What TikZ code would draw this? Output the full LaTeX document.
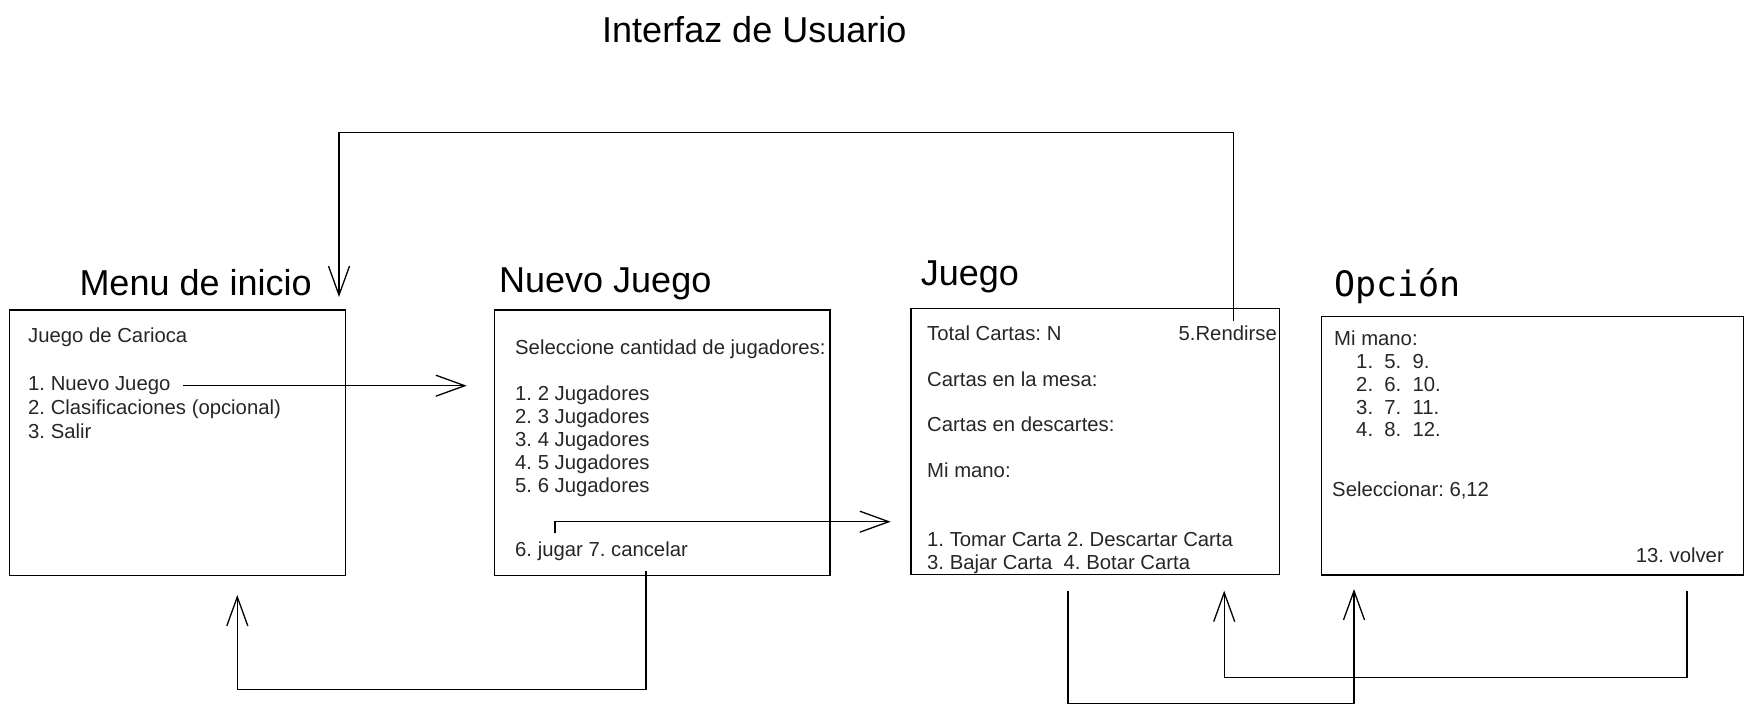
\documentclass[tikz,border=0pt]{standalone}
\usepackage{fontspec}
\setmainfont{Liberation Sans}
\newfontfamily\monofnt{DejaVu Sans Mono}
\usetikzlibrary{arrows.meta}
\frenchspacing
\begin{document}
\begin{tikzpicture}[x=1pt,y=-1pt,
  screen/.style={draw=black, line width=1.4pt, inner sep=0pt, outer sep=0pt, anchor=north west},
  heading/.style={inner sep=0pt, anchor=base west, font=\fontsize{36}{40}\selectfont, text=black},
  txt/.style={inner sep=0pt, anchor=base west, font=\fontsize{20.3}{23}\selectfont, text=black!85},
  link/.style={draw=black, line width=1.3pt, -{Straight Barb[length=29pt,width=21pt]}}]
\useasboundingbox (0,0) rectangle (1753,713);

% title
\node[heading] (title) at (602,42.3) {Interfaz de Usuario};

% screens
\node[screen, minimum width=336.4pt, minimum height=265.7pt] (menu) at (9.3,310) {};
\node[screen, minimum width=335.7pt, minimum height=265.7pt] (nuevo) at (494.3,310) {};
\node[screen, minimum width=368.7pt, minimum height=266pt] (juego) at (911,308.3) {};
\node[screen, minimum width=421.6pt, minimum height=258.3pt] (opcion) at (1321.7,316.7) {};

% headings
\node[heading] (hmenu) at (79.3,295) {Menu de inicio};
\node[heading] (hnuevo) at (499,292) {Nuevo Juego};
\node[heading] (hjuego) at (920.7,285) {Juego};
\node[heading, font=\monofnt\fontsize{35}{40}\selectfont] (hopcion) at (1334,296.7) {Opción};

% Menu de inicio
\node[txt] (m0) at (28,342.7) {Juego de Carioca};
\node[txt] (m1) at (28,390) {1. Nuevo Juego};
\node[txt] (m2) at (28,414) {2. Clasificaciones (opcional)};
\node[txt] (m3) at (28,438.3) {3. Salir};

% Nuevo Juego
\node[txt] (n0) at (515,354) {Seleccione cantidad de jugadores:};
\node[txt] (n1) at (515,400) {1. 2 Jugadores};
\node[txt] (n2) at (515,423.3) {2. 3 Jugadores};
\node[txt] (n3) at (515,446.3) {3. 4 Jugadores};
\node[txt] (n4) at (515,469.3) {4. 5 Jugadores};
\node[txt] (n5) at (515,492.3) {5. 6 Jugadores};
\node[txt] (n6) at (515,556.7) {6. jugar 7. cancelar};

% Juego
\node[txt] (j0) at (927,340) {Total Cartas: N};
\node[txt, anchor=base east] (jr) at (1277,340) {5.Rendirse};
\node[txt] (j1) at (927,386) {Cartas en la mesa:};
\node[txt] (j2) at (927,431.7) {Cartas en descartes:};
\node[txt] (j3) at (927,477.7) {Mi mano:};
\node[txt] (j4) at (927,546.7) {1. Tomar Carta 2. Descartar Carta};
\node[txt] (j5) at (927,569.3) {3. Bajar Carta\ \ 4. Botar Carta};

% Opcion
\node[txt] (o0) at (1334,345) {Mi mano:};
\node[txt] (o1) at (1356,368.3) {1.\ \ 5.\ \ 9.};
\node[txt] (o2) at (1356,391.3) {2.\ \ 6.\ \ 10.};
\node[txt] (o3) at (1356,414.3) {3.\ \ 7.\ \ 11.};
\node[txt] (o4) at (1356,436.7) {4.\ \ 8.\ \ 12.};
\node[txt] (o5) at (1332,496.7) {Seleccionar: 6,12};
\node[txt, anchor=base east] (o6) at (1724,562.3) {13. volver};

% free ends of connectors
\coordinate (a1s) at (183.3,385.7);
\coordinate (a1e) at (466.7,385.7);
\coordinate (a2s) at (555,533.3);
\coordinate (a2e) at (890.7,521.7);
\coordinate (a3s) at (646,570.7);
\coordinate (a3e) at (237.3,595);
\coordinate (a3y) at (0,689.3);
\coordinate (a4s) at (1233.3,320.7);
\coordinate (a4e) at (339,297);
\coordinate (a4y) at (0,132.3);
\coordinate (a5s) at (1068,591);
\coordinate (a5e) at (1354,589);
\coordinate (a5y) at (0,703.3);
\coordinate (a6s) at (1687,591);
\coordinate (a6e) at (1224.2,590.7);
\coordinate (a6y) at (0,677.3);

% connectors
\draw[link] (a1s) -- (a1e);
\draw[link] (a2s) |- (a2e);
\draw[link] (a3s) -- (a3s |- a3y) -- (a3e |- a3y) -- (a3e);
\draw[link] (a4s) -- (a4s |- a4y) -- (a4e |- a4y) -- (a4e);
\draw[link] (a5s) -- (a5s |- a5y) -- (a5e |- a5y) -- (a5e);
\draw[link] (a6s) -- (a6s |- a6y) -- (a6e |- a6y) -- (a6e);
\end{tikzpicture}
\end{document}
